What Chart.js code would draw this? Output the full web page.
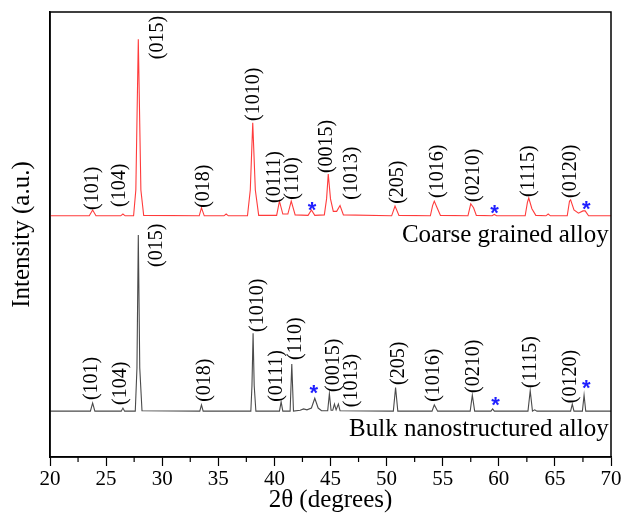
<!DOCTYPE html>
<html>
<head>
<meta charset="utf-8">
<script src="https://cdn.jsdelivr.net/npm/chart.js@4"></script>
<style>
    html, body { margin: 0; padding: 0; background: #fff; }
    #wrap { width: 626px; height: 528px; }
</style>
</head>
<body>
<div id="wrap"><canvas id="xrdChart" width="626" height="528"></canvas></div>
<script>
// XRD patterns: [2theta, intensity (a.u., offset)]
const coarseProfile = [
    [20, 54.2], [23.5, 54.2], [23.8, 55.5], [24.1, 54.2], [26.3, 54.2], [26.5, 54.6], [26.7, 54.2],
    [27.45, 54.2], [27.65, 60], [27.87, 93.9], [28.1, 60], [28.35, 54.3],
    [33.3, 54.2], [33.5, 56.0], [33.75, 54.2], [35.5, 54.2], [35.7, 54.6], [35.9, 54.2],
    [37.6, 54.2], [37.85, 60], [38.07, 75.1], [38.3, 60], [38.6, 54.3],
    [40.2, 54.3], [40.45, 57.5], [40.75, 54.6], [41.2, 54.6], [41.5, 57.5], [41.85, 54.4],
    [43.0, 54.3], [43.3, 55.5], [43.6, 54.3], [44.45, 54.4], [44.65, 58], [44.8, 63.6], [45.0, 58],
    [45.25, 55.2], [45.55, 55.2], [45.85, 56.5], [46.15, 54.4],
    [50.45, 54.2], [50.75, 56.4], [51.1, 54.3], [53.9, 54.2], [54.1, 56.5], [54.25, 57.5], [54.5, 56], [54.8, 54.3],
    [57.25, 54.2], [57.5, 56.9], [57.75, 56.0], [58.0, 54.3], [59.4, 54.2], [59.6, 54.5], [59.8, 54.2],
    [62.35, 54.2], [62.55, 57.2], [62.67, 58.2], [62.95, 55.8], [63.3, 54.3], [64.2, 54.2], [64.4, 54.6], [64.6, 54.2],
    [66.1, 54.2], [66.3, 57.5], [66.4, 57.8], [66.7, 55.5], [67.1, 54.8], [67.5, 55.3], [67.7, 55.3], [68.0, 54.2],
    [70, 54.2]
];

const bulkProfile = [
    [20, 10.3], [23.6, 10.3], [23.8, 12.1], [24.0, 10.3], [26.35, 10.3], [26.5, 11.0], [26.65, 10.3],
    [27.6, 10.3], [27.75, 20], [27.87, 49.9], [28.0, 20], [28.2, 10.4],
    [33.35, 10.3], [33.5, 11.7], [33.65, 10.3],
    [37.9, 10.3], [38.0, 16], [38.1, 27.8], [38.2, 16], [38.35, 10.3],
    [40.45, 10.3], [40.6, 12.4], [40.75, 10.3], [41.4, 10.3], [41.55, 20.9], [41.7, 10.3],
    [42.3, 10.5], [42.6, 10.8], [42.9, 10.6], [43.3, 11], [43.6, 13.2], [43.9, 11], [44.2, 10.4],
    [44.75, 10.4], [44.9, 14.2], [45.05, 10.5], [45.2, 10.5], [45.35, 11.9], [45.5, 10.6], [45.7, 11.9], [45.85, 10.4],
    [50.6, 10.3], [50.8, 15.6], [51.0, 10.3], [54.05, 10.3], [54.25, 11.7], [54.4, 11.0], [54.55, 10.3],
    [57.45, 10.3], [57.64, 13.9], [57.85, 10.3], [59.3, 10.3], [59.45, 10.8], [59.6, 10.3],
    [62.6, 10.3], [62.8, 14.9], [63.0, 10.3], [63.2, 10.6], [63.4, 10.3],
    [66.4, 10.3], [66.55, 11.9], [66.7, 10.3], [67.45, 10.3], [67.6, 13.9], [67.75, 10.3],
    [70, 10.3]
];

// peak labels: [text, 2theta, bottom of label]
const coarseLabels = [
    ["(101)", 23.79, 55.5], ["(104)", 26.24, 56.2], ["(015)", 29.58, 89.4], ["(018)", 33.68, 56.0],
    ["(1010)", 38.18, 75.5], ["(0111)", 40.05, 57.1], ["(110)", 41.61, 57.8], ["(0015)", 44.66, 63.8],
    ["(1013)", 46.89, 57.8], ["(205)", 50.97, 56.9], ["(1016)", 54.54, 58.2], ["(0210)", 57.79, 57.3],
    ["(1115)", 62.69, 58.4], ["(0120)", 66.43, 58.2]
];
const bulkLabels = [
    ["(101)", 23.74, 12.8], ["(104)", 26.33, 11.7], ["(015)", 29.54, 42.7], ["(018)", 33.81, 12.4],
    ["(1010)", 38.49, 28.1], ["(0111)", 40.23, 12.4], ["(110)", 41.93, 21.8], ["(0015)", 45.31, 14.6],
    ["(1013)", 46.92, 11.2], ["(205)", 51.1, 16.2], ["(1016)", 54.22, 12.4], ["(0210)", 57.79, 14.4],
    ["(1115)", 62.87, 15.5], ["(0120)", 66.43, 12.1]
];

// blue asterisks (impurity peaks)
const starPoints = [
    [43.35, 56.2], [59.63, 55.7], [67.8, 56.6],
    [43.5, 15.1], [59.7, 12.4], [67.8, 16.3]
];

const sampleNames = [
    ["Coarse grained alloy", 69.8, 49.9],
    ["Bulk nanostructured alloy", 69.8, 6.3]
];

const xTicks = [20, 25, 30, 35, 40, 45, 50, 55, 60, 65, 70];
const serif = "'Liberation Serif', 'Times New Roman', serif";

function toPoints(profile) {
    return profile.map(p => ({ x: p[0], y: p[1] }));
}

// frame, minor ticks, peak labels, asterisks and sample names
const annotate = {
    id: 'annotate',
    afterDraw(chart) {
        const ctx = chart.ctx;
        const xs = chart.scales.x;
        const ys = chart.scales.y;
        const area = chart.chartArea;

        ctx.save();
        ctx.strokeStyle = '#000';
        ctx.lineWidth = 1.5;
        ctx.strokeRect(area.left, area.top, area.right - area.left, area.bottom - area.top);

        // minor ticks between the labelled ones
        ctx.lineWidth = 1.2;
        for (let i = 0; i < xTicks.length - 1; i++) {
            const px = xs.getPixelForValue(xTicks[i] + 2.5);
            ctx.beginPath();
            ctx.moveTo(px, area.bottom);
            ctx.lineTo(px, area.bottom + 5);
            ctx.stroke();
        }

        ctx.fillStyle = '#000';
        ctx.font = '20px ' + serif;
        ctx.textAlign = 'left';
        ctx.textBaseline = 'middle';
        coarseLabels.concat(bulkLabels).forEach(l => {
            ctx.save();
            ctx.translate(xs.getPixelForValue(l[1]), ys.getPixelForValue(l[2]));
            ctx.rotate(-Math.PI / 2);
            ctx.fillText(l[0], 0, 0);
            ctx.restore();
        });

        ctx.font = '25px ' + serif;
        ctx.textAlign = 'right';
        sampleNames.forEach(s => {
            ctx.fillText(s[0], xs.getPixelForValue(s[1]), ys.getPixelForValue(s[2]));
        });

        ctx.fillStyle = '#1f1fff';
        ctx.font = 'bold 22px "Liberation Sans", Arial, sans-serif';
        ctx.textAlign = 'center';
        ctx.textBaseline = 'alphabetic';
        const m = ctx.measureText('*');
        const dy = (m.actualBoundingBoxAscent - m.actualBoundingBoxDescent) / 2;
        starPoints.forEach(s => {
            ctx.fillText('*', xs.getPixelForValue(s[0]), ys.getPixelForValue(s[1]) + dy);
        });
        ctx.restore();
    }
};

new Chart(document.getElementById('xrdChart'), {
    type: 'scatter',
    data: {
        datasets: [
            {
                label: 'Coarse grained alloy',
                data: toPoints(coarseProfile),
                showLine: true,
                borderColor: '#ff3b3b',
                borderWidth: 1.1,
                pointRadius: 0,
                tension: 0
            },
            {
                label: 'Bulk nanostructured alloy',
                data: toPoints(bulkProfile),
                showLine: true,
                borderColor: '#4a4a4a',
                borderWidth: 1.1,
                pointRadius: 0,
                tension: 0
            }
        ]
    },
    options: {
        responsive: false,
        animation: false,
        layout: { padding: { top: 12, right: 15, left: 0, bottom: 0 } },
        plugins: {
            legend: { display: false },
            tooltip: { enabled: false }
        },
        scales: {
            x: {
                type: 'linear',
                min: 20,
                max: 70,
                afterFit: scale => { scale.height = 71; },
                afterBuildTicks: scale => { scale.ticks = xTicks.map(v => ({ value: v })); },
                ticks: {
                    color: '#000',
                    font: { family: serif, size: 21 },
                    padding: 1,
                    maxRotation: 0,
                    autoSkip: false
                },
                grid: {
                    drawOnChartArea: false,
                    drawTicks: true,
                    tickLength: 9,
                    tickColor: '#000',
                    tickWidth: 1.2
                },
                border: { display: true, color: '#000', width: 1.5 },
                title: {
                    display: true,
                    text: '2θ (degrees)',
                    color: '#000',
                    font: { family: serif, size: 25 },
                    padding: { top: 0, bottom: 13 }
                }
            },
            y: {
                min: 0,
                max: 100,
                afterFit: scale => { scale.width = 50; },
                ticks: { display: false },
                grid: { display: false },
                border: { display: true, color: '#000', width: 1.5 },
                title: {
                    display: true,
                    text: 'Intensity (a.u.)',
                    color: '#000',
                    font: { family: serif, size: 25 },
                    padding: { top: 7, bottom: 0 }
                }
            }
        }
    },
    plugins: [annotate]
});
</script>
</body>
</html>
